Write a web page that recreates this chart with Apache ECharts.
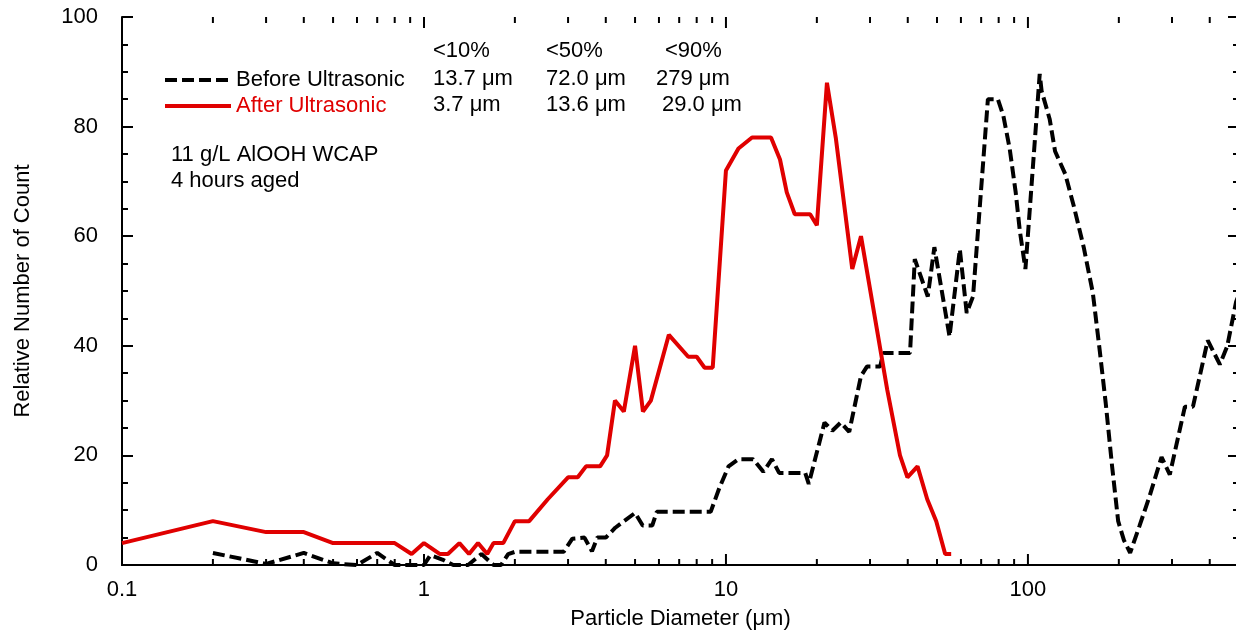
<!DOCTYPE html>
<html>
<head>
<meta charset="utf-8">
<script src="https://cdn.jsdelivr.net/npm/echarts@6/dist/echarts.min.js"></script>
<style>
  html, body { margin: 0; padding: 0; background: #ffffff; }
  #chart { width: 1236px; height: 632px; }
</style>
</head>
<body>
<div id="chart"></div>
<script>
// Particle size distribution, before and after ultrasonic treatment
const beforeSize = [0.2, 0.3, 0.4, 0.5, 0.6, 0.7, 0.8, 0.9, 1.0, 1.05, 1.15, 1.25, 1.4, 1.55, 1.7, 1.8, 1.9, 2.0, 2.9,
  3.1, 3.4, 3.6, 3.75, 4.0, 4.3, 4.6, 5.0, 5.3, 5.7, 5.9, 8.9, 9.5, 10.2, 11.0, 12.3, 13.3, 14.2, 15.0, 18.3, 18.8,
  21.2, 22.5, 24.0, 25.6, 28.0, 29.3, 32.4, 33.2, 40.7, 42.2, 46.6, 49.0, 55.0, 59.5, 62.7, 65.8, 73.7, 79.5, 82.9,
  87.0, 91.1, 94.0, 98.1, 109.4, 111, 118, 123, 133, 142, 153, 164, 173, 181, 190, 199, 208, 218, 234, 253, 277,
  295, 331, 352, 394, 432, 457, 489, 500];
const beforeCount = [2.2, 0.2, 2.2, 0.3, 0, 2.2, 0, 0, 0, 1.8, 1.0, 0, 0, 2.0, 0, 0, 2.0, 2.4, 2.4,
  4.8, 5.0, 2.5, 5.0, 5.0, 6.8, 8.0, 9.5, 7.2, 7.2, 9.7, 9.7, 14, 18, 19.3, 19.3, 17, 19.3, 16.8, 16.8, 14.8,
  26, 24.5, 26, 24.3, 34.5, 36.2, 36.2, 38.7, 38.7, 55.8, 49, 58, 41.7, 57.6, 46, 49, 85, 85, 82,
  76, 68, 61, 54, 89.6, 86.5, 81.4, 75.5, 71.3, 65.4, 58, 49.7, 39, 29.5, 18, 8, 4.5, 2.2, 7.1, 12.6, 19.7,
  16.5, 28.9, 28.9, 41, 36.6, 39.9, 48, 49.5];

const afterSize = [0.1, 0.2, 0.3, 0.4, 0.5, 0.6, 0.7, 0.8, 0.91, 1.0, 1.13, 1.2, 1.31, 1.41, 1.51, 1.62, 1.70, 1.83,
  2.0, 2.23, 2.57, 3.0, 3.23, 3.44, 3.83, 4.04, 4.29, 4.59, 5.0, 5.31, 5.64, 6.47, 7.5, 8.0, 8.5, 9.04,
  10, 11, 12.2, 14.1, 15.1, 15.9, 16.9, 19.0, 20.0, 21.6, 23.1, 26.2, 28.0, 34.2, 37.7, 39.9, 43.1, 46.4,
  49.7, 53.2, 55.7];
const afterCount = [4, 8, 6, 6, 4, 4, 4, 4, 2, 4, 2, 2, 4, 2, 4, 2, 4, 4,
  8, 8, 12, 16, 16, 18, 18, 20, 30, 28, 40, 28, 30, 42, 38, 38, 36, 36,
  72, 76, 78, 78, 74, 68, 64, 64, 62, 88, 78, 54, 60, 32, 20, 16, 18, 12,
  8, 2, 2];

const seriesNames = ['Before Ultrasonic', 'After Ultrasonic'];
const statHeaders = ['<10%', '<50%', '<90%'];
const beforeStats = ['13.7 μm', '72.0 μm', '279 μm'];
const afterStats = ['3.7 μm', '13.6 μm', '29.0 μm'];
const sampleNotes = ['11 g/L AlOOH WCAP', '4 hours aged'];
const xAxisTitle = 'Particle Diameter (μm)';
const yAxisTitle = 'Relative Number of Count';
const xMajorTicks = [0.1, 1, 10, 100];

// Minor log ticks: 2..9 within each decade
const xMinorTicks = [];
xMajorTicks.forEach(function (d) {
  for (let k = 2; k <= 9; k++) {
    const v = +(d * k).toPrecision(3);
    if (v <= 500) xMinorTicks.push(v);
  }
});

const FONT = '"Liberation Sans", Arial, sans-serif';
const RED = '#e00000';
const INK = '#000000';

function pairs(xs, ys) { return xs.map(function (x, i) { return [x, ys[i]]; }); }

// tick marks of the log axis, drawn inward on the bottom and top frame edges
const xTickData = xMajorTicks.map(function (v) { return [v, 11]; })
  .concat(xMinorTicks.map(function (v) { return [v, 6]; }));

function renderFrameTick(params, api) {
  const x = api.coord([api.value(0), 0])[0];
  const len = api.value(1);
  const cs = params.coordSys;
  const yb = cs.y + cs.height;
  const yt = cs.y;
  const st = { stroke: INK, lineWidth: 2 };
  return {
    type: 'group',
    children: [
      { type: 'line', shape: { x1: x, y1: yb, x2: x, y2: yb - len }, style: st },
      { type: 'line', shape: { x1: x, y1: yt, x2: x, y2: yt + len }, style: st }
    ]
  };
}

const chart = echarts.init(document.getElementById('chart'), null, { renderer: 'canvas' });

function logAxis(position, opts) {
  return Object.assign({
    type: 'log', logBase: 10, min: 0.1, max: 500, gridIndex: 0, position: position,
    splitLine: { show: false },
    axisLine: { show: true, lineStyle: { color: INK, width: 2 } },
    axisTick: { show: false },
    axisLabel: { show: false }
  }, opts);
}

// text placement for the statistics table and notes
const statCols = [[433, 433, 433], [546, 546, 546], [665, 656, 662]];
const statRows = [50, 78, 104];
const graphics = [];
[statHeaders, beforeStats, afterStats].forEach(function (row, r) {
  row.forEach(function (t, c) {
    graphics.push({
      type: 'text', left: statCols[c][r], top: statRows[r] - 10, silent: true,
      style: { text: t, font: '22px ' + FONT, fill: INK }
    });
  });
});
sampleNotes.forEach(function (t, i) {
  graphics.push({
    type: 'text', left: 171, top: 144 + i * 26, silent: true,
    style: { text: t, font: '22px ' + FONT, fill: INK }
  });
});

const tickStyle = { color: INK, width: 2 };

chart.setOption({
  animation: false,
  backgroundColor: '#ffffff',
  textStyle: { fontFamily: FONT },
  grid: { left: 122, top: 17, width: 1117, height: 548, containLabel: false, outerBoundsMode: 'none' },
  legend: {
    orient: 'vertical', left: 163, top: 69, padding: 0,
    itemWidth: 66, itemHeight: 14, itemGap: 4,
    selectedMode: false,
    textStyle: { fontSize: 22, fontFamily: FONT, color: INK },
    lineStyle: { width: 4 },
    itemStyle: { opacity: 0 },
    data: [
      { name: seriesNames[0], textStyle: { color: INK } },
      { name: seriesNames[1], textStyle: { color: RED } }
    ]
  },
  xAxis: [
    logAxis('bottom', {
      name: xAxisTitle, nameLocation: 'middle', nameGap: 43,
      nameTextStyle: { fontSize: 22, color: INK, fontFamily: FONT },
      axisLabel: { show: true, fontSize: 22, color: INK, margin: 14, fontFamily: FONT, customValues: xMajorTicks }
    }),
    logAxis('top', {})
  ],
  yAxis: [
    {
      type: 'value', min: 0, max: 100, interval: 20, position: 'left',
      name: yAxisTitle, nameLocation: 'middle', nameGap: 88,
      nameTextStyle: { fontSize: 22, color: INK, fontFamily: FONT },
      splitLine: { show: false },
      axisLine: { show: true, lineStyle: { color: INK, width: 2 } },
      axisTick: { show: true, inside: true, length: 11, lineStyle: tickStyle },
      minorTick: { show: true, splitNumber: 4, length: 6, lineStyle: tickStyle },
      axisLabel: { fontSize: 22, color: INK, margin: 24, fontFamily: FONT }
    },
    {
      type: 'value', min: 0, max: 100, interval: 20, position: 'right',
      splitLine: { show: false },
      axisLine: { show: true, lineStyle: { color: INK, width: 2 } },
      axisTick: { show: true, inside: true, length: 11, lineStyle: tickStyle },
      minorTick: { show: true, splitNumber: 4, length: 6, lineStyle: tickStyle },
      axisLabel: { show: false }
    }
  ],
  series: [
    {
      name: 'xFrameTicks', type: 'custom', xAxisIndex: 0, yAxisIndex: 0,
      data: xTickData, renderItem: renderFrameTick, silent: true, clip: false, z: 5
    },
    {
      name: seriesNames[0], type: 'line', xAxisIndex: 0, yAxisIndex: 0,
      data: pairs(beforeSize, beforeCount),
      showSymbol: false, symbol: 'none', smooth: false,
      lineStyle: { color: INK, width: 4, type: [12, 5], cap: 'butt' },
      itemStyle: { color: INK },
      z: 3
    },
    {
      name: seriesNames[1], type: 'line', xAxisIndex: 0, yAxisIndex: 0,
      data: pairs(afterSize, afterCount),
      showSymbol: false, symbol: 'none', smooth: false,
      lineStyle: { color: RED, width: 4 },
      itemStyle: { color: RED },
      z: 4
    }
  ],
  graphic: graphics
});
</script>
</body>
</html>
